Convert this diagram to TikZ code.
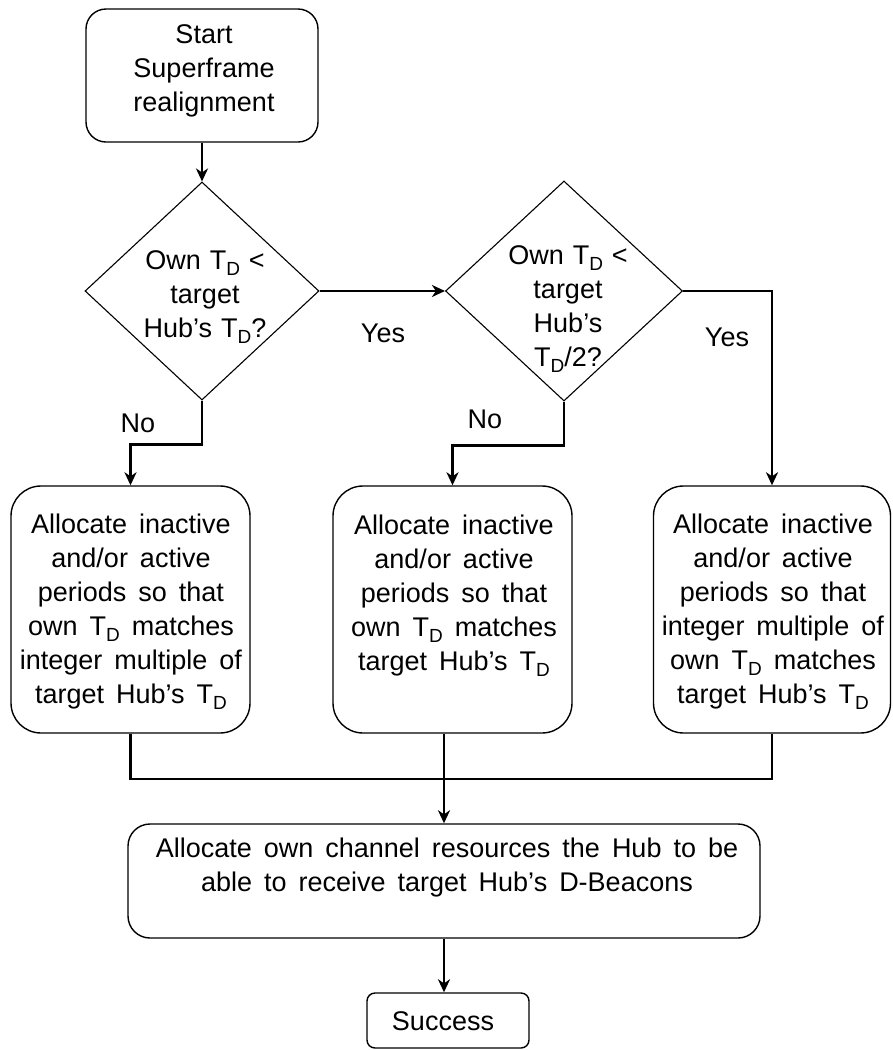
\documentclass[tikz,border=0pt]{standalone}
\usepackage{fontspec}
\setmainfont{Liberation Sans}
\usetikzlibrary{shapes.geometric,arrows.meta,calc}
\newcommand\widesp{\spaceskip=12pt plus 3pt minus 3pt\relax}
\newcommand\normsp{\spaceskip=9pt plus 2pt minus 2pt\relax}
\newcommand\TD{T\raisebox{-6pt}{\fontsize{19}{19}\selectfont D}}
\begin{document}
\begin{tikzpicture}[x=1pt,y=-1pt,
  box/.style={draw, line width=1.4pt, rounded corners=#1, inner sep=0pt},
  box/.default=28pt,
  dia/.style={draw, diamond, line width=1.1pt, inner sep=0pt},
  txt/.style={align=center, inner sep=0pt,
    font=\fontsize{27}{34}\selectfont\widesp},
  txts/.style={align=center, inner sep=0pt,
    font=\fontsize{27}{34}\selectfont\normsp},
  conn/.style={line width=2.6pt, -{Stealth[length=13pt,width=12pt,inset=4pt]}},
  lin/.style={line width=2.6pt}
]
\useasboundingbox (0,0) rectangle (892,1050);

% start
\node[box=20pt, minimum width=232pt, minimum height=133pt] (start) at (202,75.5) {};
\node[txts] (startt) at (204,71) {Start\\Superframe\\realignment};

% decisions
\node[dia, minimum width=234pt, minimum height=218pt] (d1) at (202,291) {};
\node[txts] (d1t) at (205,297) {Own \TD{} <\\target\\Hub’s \TD?};
\node[dia, minimum width=237pt, minimum height=220pt] (d2) at (564,291) {};
\node[txts] (d2t) at (568,309) {Own \TD{} <\\target\\Hub’s\\\TD/2?};

% action boxes
\node[box=30pt, minimum width=239pt, minimum height=247pt] (b1) at (130.5,609.5) {};
\node[txt] (b1t) at (131,612) {Allocate inactive\\and/or active\\periods so that\\own \TD{} matches\\integer multiple of\\target Hub’s \TD};
\node[box=30pt, minimum width=239pt, minimum height=247pt] (b2) at (452.5,609.5) {};
\node[txt] (b2t) at (454,595.5) {Allocate inactive\\and/or active\\periods so that\\own \TD{} matches\\target Hub’s \TD};
\node[box=30pt, minimum width=237pt, minimum height=247pt] (b3) at (772,609.5) {};
\node[txt] (b3t) at (773,612) {Allocate inactive\\and/or active\\periods so that\\integer multiple of\\own \TD{} matches\\target Hub’s \TD};

% final boxes
\node[box=22pt, minimum width=632pt, minimum height=114pt] (b4) at (444,881) {};
\node[txt] (b4t) at (447,868) {Allocate own channel resources the Hub to be\\able to receive target Hub’s D-Beacons};
\node[box=8pt, minimum width=162pt, minimum height=55pt] (succ) at (448,1020.5) {};
\node[txts] (succt) at (443,1021) {Success};

% labels
\node[txts] (yes1) at (383,333) {Yes};
\node[txts] (yes2) at (727,337) {Yes};
\node[txts] (no1) at (138,423) {No};
\node[txts] (no2) at (485,419) {No};

% connectors
\draw[conn] (start.south -| d1.north) -- (d1.north);
\draw[conn] (d1.east) -- (d2.west);
\draw[conn] (d2.east) -| (b3.north);
\draw[conn] (d1.south) -- ++(0,44) -| (b1.north);
\draw[conn] (d2.south) -- ++(0,44) -| (b2.north);

\coordinate (m) at (444,779);
\draw[lin] (b1.south) |- (m) -| (b3.south);
\draw[conn] (b2.south -| m) -- (b4.north);
\draw[conn] (b4.south) -- (b4.south |- succ.north);
\end{tikzpicture}
\end{document}
